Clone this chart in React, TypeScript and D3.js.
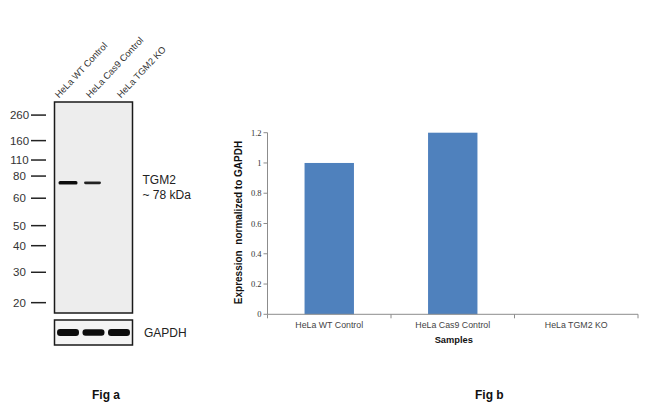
import React from "react";
import * as d3 from "d3";

// ---- Fig a: western blot data ----
const lanes = ["HeLa WT Control", "HeLa Cas9 Control", "HeLa TGM2 KO"];
const markerKda = [260, 160, 110, 80, 60, 50, 40, 30, 20];
const markerRf = [0.062, 0.183, 0.275, 0.351, 0.456, 0.586, 0.681, 0.807, 0.951];
const tgm2Rf = 0.383;
const tgm2Intensity = [1, 0.75, 0];
const gapdhIntensity = [1, 0.9, 0.95];

// ---- Fig b: bar chart data ----
const samples = ["HeLa WT Control", "HeLa Cas9 Control", "HeLa TGM2 KO"];
const expression = [1.0, 1.2, 0];
const yTicks = [0, 0.2, 0.4, 0.6, 0.8, 1, 1.2];

const W = 650;
const H = 410;

export default function App() {
  // blot geometry
  const blot = { x: 54.5, y: 102, w: 78, h: 211 };
  const gap = { y: 320, h: 25 };
  const laneX = d3
    .scaleBand<string>()
    .domain(lanes)
    .range([blot.x, blot.x + blot.w])
    .paddingInner(0.1)
    .paddingOuter(0.08);
  const labelX = d3.scalePoint<string>().domain(lanes).range([59, 121]);
  const rfY = d3.scaleLinear().domain([0, 1]).range([blot.y, blot.y + blot.h]);

  // bar chart geometry
  const plot = { left: 267.5, right: 638, top: 132.7, bottom: 314.3 };
  const x = d3.scaleBand<string>().domain(samples).range([plot.left, plot.right]).padding(0);
  const y = d3.scaleLinear().domain([0, 1.2]).range([plot.bottom, plot.top]);
  const barW = x.bandwidth() * 0.4;
  const axisColor = "#8c8c8c";

  return (
    <div style={{ position: "absolute", left: 0, top: 0 }}>
      <svg width={W} height={H} style={{ display: "block", background: "#fff" }}>
        <defs>
          <filter id="blur" x="-20%" y="-100%" width="140%" height="300%">
            <feGaussianBlur stdDeviation="0.7" />
          </filter>
        </defs>

        {/* ---------- Fig a ---------- */}
        {lanes.map((l) => (
          <text
            key={l}
            transform={`translate(${labelX(l)},${98.5}) rotate(-47)`}
            fontFamily="Liberation Sans, Arial, sans-serif"
            fontSize={9.3}
            fill="#333"
          >
            {l}
          </text>
        ))}

        <rect x={blot.x} y={blot.y} width={blot.w} height={blot.h} fill="#ededed" stroke="#1a1a1a" strokeWidth={1.5} />
        {lanes.map((l, i) =>
          tgm2Intensity[i] > 0 ? (
            <rect
              key={"t" + l}
              x={(laneX(l) as number) + 2}
              y={rfY(tgm2Rf) - 1.6 * tgm2Intensity[i] - 0.2}
              width={laneX.bandwidth() - 4 - (i === 1 ? 2 : 0)}
              height={3.2 * tgm2Intensity[i] + 0.4}
              rx={1.5}
              fill="#111"
              opacity={0.6 + 0.4 * tgm2Intensity[i]}
              filter="url(#blur)"
            />
          ) : null
        )}

        {markerKda.map((m, i) => (
          <g key={m}>
            <text
              x={19.5}
              y={rfY(markerRf[i]) + 4.2}
              textAnchor="middle"
              fontFamily="Liberation Sans, Arial, sans-serif"
              fontSize={11.5}
              fill="#333"
            >
              {m}
            </text>
            <line x1={31} x2={46} y1={rfY(markerRf[i])} y2={rfY(markerRf[i])} stroke="#222" strokeWidth={1.5} />
          </g>
        ))}

        <text x={142.5} y={184} fontFamily="Liberation Sans, Arial, sans-serif" fontSize={12} fill="#222">
          TGM2
        </text>
        <text x={142.5} y={198.5} fontFamily="Liberation Sans, Arial, sans-serif" fontSize={12} fill="#222">
          ~ 78 kDa
        </text>

        <rect x={blot.x} y={gap.y} width={blot.w} height={gap.h} fill="#f4f4f4" stroke="#1a1a1a" strokeWidth={1.5} />
        {lanes.map((l, i) => (
          <rect
            key={"g" + l}
            x={(laneX(l) as number) + 0.5}
            y={gap.y + gap.h / 2 - 3.6 * gapdhIntensity[i]}
            width={laneX.bandwidth() - 1}
            height={7.2 * gapdhIntensity[i]}
            rx={3}
            fill="#0d0d0d"
            filter="url(#blur)"
          />
        ))}
        <text x={144} y={336.5} fontFamily="Liberation Sans, Arial, sans-serif" fontSize={12} fill="#222">
          GAPDH
        </text>

        <text x={92} y={399} fontFamily="Liberation Sans, Arial, sans-serif" fontSize={12} fontWeight="bold" fill="#111">
          Fig a
        </text>

        {/* ---------- Fig b ---------- */}
        {samples.map((s, i) => (
          <rect
            key={s}
            x={(x(s) as number) + (x.bandwidth() - barW) / 2}
            y={y(expression[i])}
            width={barW}
            height={plot.bottom - y(expression[i])}
            fill="#4f81bd"
          />
        ))}

        <line x1={plot.left} x2={plot.left} y1={plot.top} y2={plot.bottom} stroke={axisColor} strokeWidth={1} />
        <line x1={plot.left} x2={plot.right} y1={plot.bottom} y2={plot.bottom} stroke={axisColor} strokeWidth={1} />
        {yTicks.map((t) => (
          <g key={t}>
            <line x1={plot.left - 4} x2={plot.left} y1={y(t)} y2={y(t)} stroke={axisColor} />
            <text
              x={plot.left - 6}
              y={y(t) + 3}
              textAnchor="end"
              fontFamily="Liberation Serif, Times New Roman, serif"
              fontSize={8.5}
              fill="#333"
            >
              {t}
            </text>
          </g>
        ))}
        {samples.map((s) => (
          <line
            key={"xt" + s}
            x1={(x(s) as number) + x.bandwidth()}
            x2={(x(s) as number) + x.bandwidth()}
            y1={plot.bottom}
            y2={plot.bottom + 4}
            stroke={axisColor}
          />
        ))}
        <line x1={plot.left} x2={plot.left} y1={plot.bottom} y2={plot.bottom + 4} stroke={axisColor} />
        {samples.map((s) => (
          <text
            key={"xl" + s}
            x={(x(s) as number) + x.bandwidth() / 2}
            y={328}
            textAnchor="middle"
            fontFamily="Liberation Sans, Arial, sans-serif"
            fontSize={8.8}
            fill="#444"
          >
            {s}
          </text>
        ))}
        <text
          x={(plot.left + plot.right) / 2 + 1}
          y={343}
          textAnchor="middle"
          fontFamily="Liberation Sans, Arial, sans-serif"
          fontSize={9.3}
          fontWeight="bold"
          fill="#111"
        >
          Samples
        </text>
        <text
          transform={`translate(${242},${(plot.top + plot.bottom) / 2 - 1}) rotate(-90)`}
          textAnchor="middle"
          fontFamily="Liberation Sans, Arial, sans-serif"
          fontSize={10}
          fontWeight="bold"
          fill="#111"
          style={{ whiteSpace: "pre" }}
        >
          {"Expression  normalized to GAPDH"}
        </text>

        <text x={475} y={399} fontFamily="Liberation Sans, Arial, sans-serif" fontSize={12} fontWeight="bold" fill="#111">
          Fig b
        </text>
      </svg>
    </div>
  );
}
